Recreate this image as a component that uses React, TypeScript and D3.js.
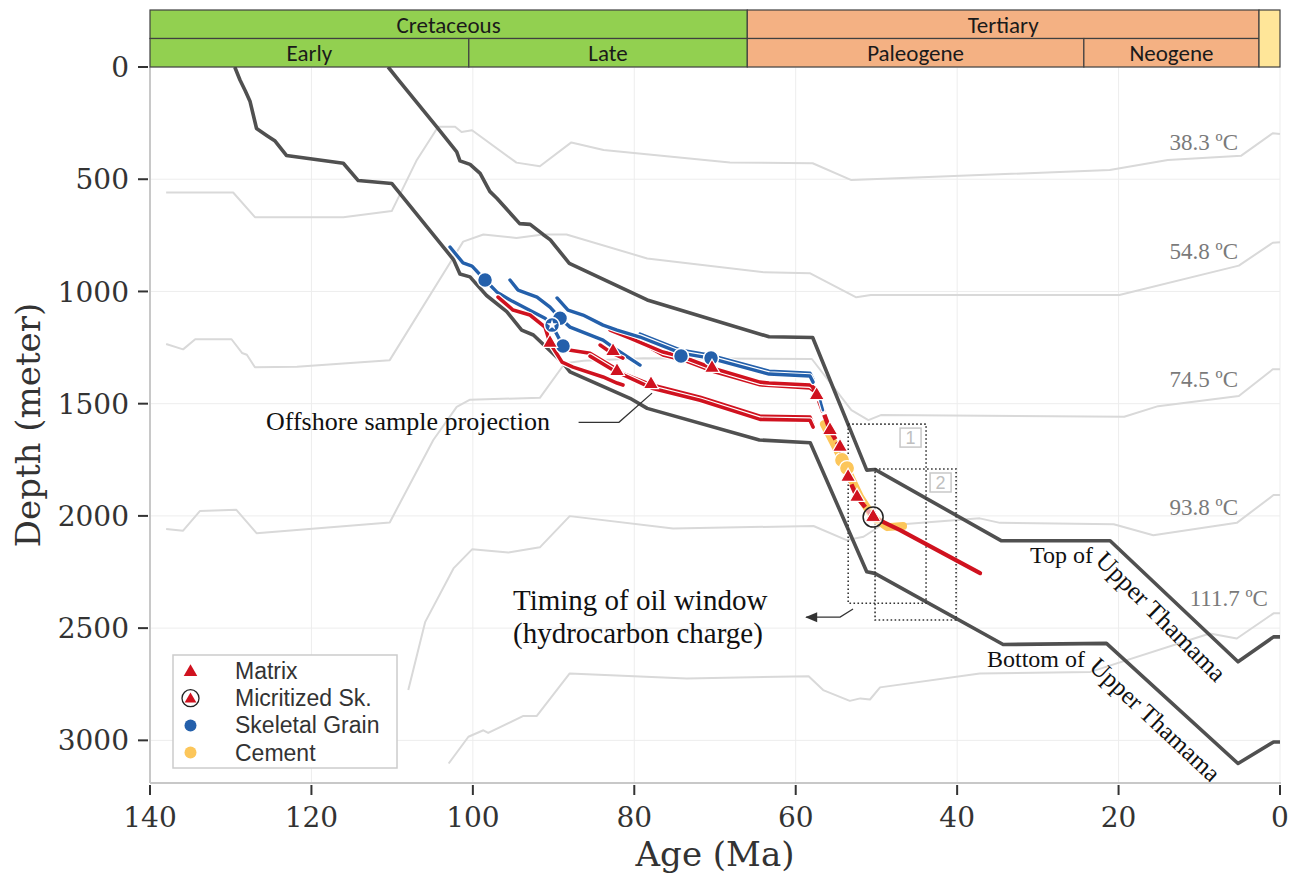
import React from "react";
import * as d3 from "d3";

type P = [number, number];

// ---- axes ----
const ageTicks = [140, 120, 100, 80, 60, 40, 20, 0];
const depthTicks = [0, 500, 1000, 1500, 2000, 2500, 3000];

// ---- geologic time header ----
const periods = [
  { name: "Cretaceous", start: 140, end: 66, color: "#92D050" },
  { name: "Tertiary", start: 66, end: 2.6, color: "#F4B183" },
];
const epochs = [
  { name: "Early", start: 140, end: 100.5, color: "#92D050" },
  { name: "Late", start: 100.5, end: 66, color: "#92D050" },
  { name: "Paleogene", start: 66, end: 24.3, color: "#F4B183" },
  { name: "Neogene", start: 24.3, end: 2.6, color: "#F4B183" },
];
const quaternary = { start: 2.6, end: 0, color: "#FFE699" };

// ---- burial curves [age Ma, depth m] ----
const topThamama: P[] = [
  [110.5, 0], [109.2, 58], [104.5, 266], [102.0, 378], [101.6, 418], [100.35, 434], [99.1, 474],
  [97.9, 554], [97.0, 586], [95.8, 634], [94.2, 698], [92.9, 701], [91.3, 746], [90.4, 770],
  [88.05, 875], [78.4, 1038], [63.3, 1202], [57.9, 1205], [51.2, 1796], [50.2, 1793],
  [34.5, 2111], [21.05, 2111], [5.2, 2650], [0.8, 2539], [0, 2539],
];
const bottomThamama: P[] = [
  [129.5, 0], [128.85, 58], [128.2, 106], [127.6, 154], [126.8, 274], [125.5, 306], [124.5, 330],
  [123.1, 394], [116.05, 429], [114.2, 506], [110.05, 519], [102.4, 858], [101.6, 922],
  [100.35, 935], [99.7, 962], [98.3, 1018], [95.8, 1090], [93.95, 1172], [92.5, 1194],
  [88.8, 1320], [87.96, 1358], [80.53, 1476], [78.4, 1521], [64.5, 1662], [58.2, 1674],
  [51.2, 2249], [50.2, 2256], [34.3, 2573], [21.5, 2568], [5.2, 3103], [0.8, 3007], [0, 3007],
];

// ---- isotherms ----
const iso38: P[] = [
  [138.0, 559], [129.7, 559], [127.0, 669], [116.05, 669], [110.05, 642], [107.0, 418], [104.3, 266],
  [102.2, 266], [101.4, 290], [100.1, 282], [94.6, 426], [91.7, 442], [87.8, 336], [83.8, 370],
  [68.15, 425], [57.9, 429], [53.1, 504], [21.1, 459], [13.9, 414], [4.8, 395], [0.9, 295], [0, 299],
];
const iso54: P[] = [
  [138.0, 1234], [135.9, 1258], [134.4, 1213], [129.9, 1213], [128.6, 1274], [128.0, 1282],
  [127.0, 1338], [121.8, 1336], [110.3, 1306], [101.2, 778], [98.7, 746], [94.6, 762], [91.3, 746],
  [88.4, 746], [78.4, 853], [63.9, 915], [58.2, 919], [52.5, 1026], [50.7, 1016], [19.9, 1016],
  [5.1, 885], [0.9, 783], [0, 781],
];
const iso74: P[] = [
  [138.0, 2058], [135.9, 2066], [133.8, 1978], [129.3, 1973], [126.8, 2077], [110.3, 2029],
  [104.9, 1662], [102.0, 1514], [100.35, 1482], [91.7, 1474], [88.6, 1320], [86.3, 1309],
  [78.9, 1298], [58.0, 1301], [53.1, 1529], [51.0, 1573], [49.45, 1551], [19.3, 1558],
  [15.1, 1511], [5.1, 1466], [0.9, 1347], [0, 1347],
];
const iso93: P[] = [
  [108.0, 2776], [105.9, 2472], [102.4, 2234], [100.1, 2149], [95.6, 2163], [91.7, 2140],
  [88.0, 2001], [75.2, 2056], [57.8, 2045], [53.7, 2108], [51.6, 2093], [49.55, 2045],
  [37.2, 2011], [34.7, 2031], [20.6, 2037], [15.7, 2086], [5.35, 2031], [0.8, 1907], [0, 1907],
];
const iso111: P[] = [
  [103.0, 3103], [100.55, 2984], [98.7, 2955], [98.1, 2967], [93.8, 2892], [92.1, 2892],
  [88.0, 2702], [73.5, 2724], [58.4, 2714], [56.6, 2776], [53.3, 2824], [52.0, 2813],
  [50.8, 2818], [49.55, 2764], [37.2, 2702], [23.5, 2695], [8.7, 2524], [5.35, 2546],
  [0.8, 2434], [0, 2434],
];
const isoLabels = [
  { text: "38.3 ºC", age: 5.2, depth: 370 },
  { text: "54.8 ºC", age: 5.2, depth: 856 },
  { text: "74.5 ºC", age: 5.2, depth: 1426 },
  { text: "93.8 ºC", age: 5.2, depth: 1996 },
  { text: "111.7 ºC", age: 1.5, depth: 2402 },
];

// ---- sample paths ----
const blue1: P[] = [
  [102.83, 802], [101.22, 873], [100.1, 887], [98.49, 949], [97.01, 1003], [95.15, 1043],
  [92.55, 1092], [91.06, 1119], [90.19, 1150], [88.83, 1243],
];
const blue2: P[] = [
  [95.4, 949], [94.4, 994], [92.05, 1025], [90.44, 1070], [89.2, 1119], [87.96, 1159],
  [83.87, 1217], [82.14, 1261], [79.29, 1328],
];
const blue3: P[] = [
  [89.57, 1029], [88.21, 1083], [86.35, 1105], [83.87, 1150], [82.14, 1172], [79.29, 1203],
  [74.21, 1275], [70.62, 1297], [63.31, 1368], [58.23, 1377], [57.85, 1404],
];
const blue4: P[] = [
  [79.29, 1190], [74.21, 1262], [70.62, 1284], [63.31, 1355], [58.23, 1364], [57.85, 1392],
];
const blueSteep: P[] = [[56.97, 1484], [56.62, 1529]];
const red1: P[] = [
  [96.88, 1025], [95.02, 1083], [92.92, 1105], [91.06, 1159], [90.44, 1230], [88.95, 1315],
  [87.59, 1337], [83.87, 1381], [82.14, 1408], [81.4, 1417],
];
const red2: P[] = [
  [88.95, 1248], [88.1, 1261], [85.48, 1275], [82.63, 1337], [82.14, 1355], [77.8, 1417],
  [71.85, 1471], [64.42, 1556], [58.23, 1560], [57.85, 1595],
];
const red2b: P[] = [
  [85.48, 1288], [82.63, 1350], [77.8, 1431], [71.85, 1485], [64.42, 1570], [58.23, 1574],
  [57.85, 1604],
];
const red3: P[] = [
  [83.0, 1172], [80.53, 1208], [76.44, 1270], [73.96, 1292], [70.37, 1341], [64.42, 1404],
  [63.31, 1408], [58.23, 1417], [57.85, 1426],
];
const red3b: P[] = [
  [79.29, 1225], [76.44, 1283], [73.96, 1305], [70.37, 1354], [64.42, 1416], [58.23, 1430],
  [57.85, 1440],
];
const red4: P[] = [[84.24, 1239], [82.76, 1275], [81.4, 1297]];
const redSteep: P[] = [
  [57.85, 1426], [57.36, 1462], [55.75, 1618], [54.51, 1693], [53.51, 1827], [52.4, 1916],
  [50.41, 2005],
];
const redTail: P[] = [[50.41, 2005], [47.07, 2063], [37.16, 2255]];
const cementBand: P[] = [
  [56.5, 1591], [53.9, 1774], [52.03, 1916], [50.41, 2005], [48.68, 2050], [46.7, 2045],
];

// ---- sample points ----
const matrixPts: P[] = [
  [90.44, 1230], [82.63, 1266], [82.14, 1355], [77.93, 1413], [70.37, 1341], [57.4, 1462],
  [55.75, 1618], [54.51, 1693], [53.51, 1827], [52.4, 1916],
];
const micritizedPts: P[] = [[50.41, 2005]];
const skeletalPts: P[] = [[98.49, 949], [89.2, 1119], [88.83, 1243], [74.21, 1288], [70.49, 1297]];
const starPts: P[] = [[90.19, 1150]];
const cementPts: P[] = [[54.26, 1751], [53.64, 1787]];

const legendItems = ["Matrix", "Micritized Sk.", "Skeletal Grain", "Cement"];

// ---- annotation boxes (age range, depth range) ----
const windowBoxes = [
  { label: "1", a0: 53.5, a1: 43.85, d0: 1591, d1: 2389 },
  { label: "2", a0: 50.17, a1: 40.13, d0: 1791, d1: 2464 },
];

const RED = "#d0121f";
const BLUE = "#2460ab";
const YEL = "#fcc65a";
const DARK = "#505050";
const ISO = "#d9d9d9";

export default function App() {
  const x = d3.scaleLinear().domain([140, 0]).range([150, 1280]);
  const y = d3.scaleLinear().domain([0, 3190]).range([67, 783]);
  const line = d3.line<P>().x((d) => x(d[0])).y((d) => y(d[1]));
  const tri = d3.symbol(d3.symbolTriangle, 100)()!;
  const triSmall = d3.symbol(d3.symbolTriangle, 80)()!;
  const star = d3.symbol(d3.symbolStar, 38)()!;

  const serifAxis = "'DejaVu Serif', serif";
  const times = "'Liberation Serif', 'Times New Roman', serif";
  const hdrFont = "Carlito, Lato, 'Open Sans', sans-serif";

  const samplePath = (pts: P[], color: string, w = 3.6, key?: string) => (
    <g key={key}>
      <path d={line(pts)!} fill="none" stroke="#fff" strokeWidth={w + 2.4} strokeLinejoin="round" strokeLinecap="round" />
      <path d={line(pts)!} fill="none" stroke={color} strokeWidth={w} strokeLinejoin="round" strokeLinecap="round" />
    </g>
  );

  const hTop = 10, hMid = 38.5, hBot = 67;

  return (
    <svg width={1301} height={873} style={{ position: "absolute", left: 0, top: 0, background: "#fff" }}>
      {/* grid */}
      <g>
        {ageTicks.map((t) => (
          <line key={"gx" + t} x1={x(t)} x2={x(t)} y1={67} y2={783} stroke="#ededed" strokeWidth={1} />
        ))}
        {depthTicks.map((t) => (
          <line key={"gy" + t} x1={150} x2={1280} y1={y(t)} y2={y(t)} stroke="#ededed" strokeWidth={1} />
        ))}
      </g>

      {/* isotherms */}
      {[iso38, iso54, iso74, iso93, iso111].map((iso, i) => (
        <path key={"iso" + i} d={line(iso)!} fill="none" stroke={ISO} strokeWidth={2} strokeLinejoin="round" />
      ))}
      {isoLabels.map((l) => (
        <text key={l.text} x={x(l.age)} y={y(l.depth)} textAnchor="end" fontFamily={times} fontSize={23} fill="#7a7a7a">
          {l.text}
        </text>
      ))}

      {/* burial curves */}
      <path d={line(topThamama)!} fill="none" stroke={DARK} strokeWidth={3.6} strokeLinejoin="round" />
      <path d={line(bottomThamama)!} fill="none" stroke={DARK} strokeWidth={3.6} strokeLinejoin="round" />

      {/* oil window boxes */}
      {windowBoxes.map((b) => (
        <g key={"box" + b.label}>
          <rect x={x(b.a0)} y={y(b.d0)} width={x(b.a1) - x(b.a0)} height={y(b.d1) - y(b.d0)} fill="none" stroke="#333" strokeWidth={1.6} strokeDasharray="1.6 2.4" />
          <rect x={x(b.a1) - 26} y={y(b.d0) + 4} width={21} height={19} fill="#fff" stroke="#c8c8c8" strokeWidth={1.5} />
          <text x={x(b.a1) - 15.5} y={y(b.d0) + 20} textAnchor="middle" fontFamily="'Liberation Sans', Arial, sans-serif" fontSize={18} fill="#c0c0c0">
            {b.label}
          </text>
        </g>
      ))}

      {/* sample paths */}
      {samplePath(blue1, BLUE, 3.4, "b1")}
      {samplePath(blue2, BLUE, 3.4, "b2")}
      {samplePath(red1, RED, 3.6, "r1")}
      {samplePath(red2, RED, 3.6, "r2")}
      {samplePath(red2b, RED, 3.6, "r2b")}
      {samplePath(red4, RED, 3.6, "r4")}
      {samplePath(red3b, RED, 3.6, "r3b")}
      {samplePath(red3, RED, 3.6, "r3")}
      {samplePath(blue4, BLUE, 3.4, "b4")}
      {samplePath(blue3, BLUE, 3.4, "b3")}
      <path d={line(cementBand)!} fill="none" stroke={YEL} strokeWidth={8} strokeLinejoin="round" strokeLinecap="round" />
      <path d={line(redSteep)!} fill="none" stroke={RED} strokeWidth={4.5} strokeDasharray="12 3" strokeLinejoin="round" />
      {samplePath(blueSteep, BLUE, 2.5, "bs")}
      <path d={line(redTail)!} fill="none" stroke={RED} strokeWidth={4.2} strokeLinejoin="round" strokeLinecap="round" />

      {/* markers */}
      {cementPts.map((p, i) => (
        <circle key={"c" + i} cx={x(p[0])} cy={y(p[1])} r={7.5} fill={YEL} stroke="#fff" strokeWidth={1.2} />
      ))}
      {skeletalPts.map((p, i) => (
        <circle key={"s" + i} cx={x(p[0])} cy={y(p[1])} r={7.5} fill={BLUE} stroke="#fff" strokeWidth={1.5} />
      ))}
      {starPts.map((p, i) => (
        <g key={"st" + i} transform={`translate(${x(p[0])},${y(p[1])})`}>
          <circle r={7.5} fill={BLUE} stroke="#fff" strokeWidth={1.5} />
          <path d={star} fill="#fff" />
        </g>
      ))}
      {matrixPts.map((p, i) => (
        <path key={"m" + i} d={tri} transform={`translate(${x(p[0])},${y(p[1])})`} fill={RED} stroke="#fff" strokeWidth={1.2} />
      ))}
      {micritizedPts.map((p, i) => (
        <g key={"mi" + i} transform={`translate(${x(p[0])},${y(p[1])})`}>
          <circle r={10} fill="#fff" fillOpacity={0.6} stroke="#222" strokeWidth={1.5} />
          <path d={tri} fill={RED} stroke="#fff" strokeWidth={1} />
        </g>
      ))}

      {/* annotations */}
      <text x={266} y={430} fontFamily={times} fontSize={26} fill="#111">Offshore sample projection</text>
      <path d={`M${x(86.9)},${y(1583)} L${x(81.9)},${y(1583)} L${x(77.8)},${y(1453)}`} fill="none" stroke="#333" strokeWidth={1.3} />
      <text x={513} y={610} fontFamily={times} fontSize={29} fill="#111">Timing of oil window</text>
      <text x={513} y={643} fontFamily={times} fontSize={29} fill="#111">(hydrocarbon charge)</text>
      <path d={`M${x(52.9)},${y(2415)} L${x(54.5)},${y(2451)} L${x(58.7)},${y(2451)}`} fill="none" stroke="#333" strokeWidth={1.3} />
      <path d={`M${x(58.7) - 1},${y(2451)} l12,-5 l0,10 z`} fill="#333" />

      <text x={1030} y={563} fontFamily={times} fontSize={24} fill="#111">Top of</text>
      <text transform={`translate(${x(23.0)},${y(2205)}) rotate(45)`} fontFamily={times} fontSize={25.5} fill="#111">Upper Thamama</text>
      <text x={987} y={667} fontFamily={times} fontSize={24} fill="#111">Bottom of</text>
      <text transform={`translate(${x(23.8)},${y(2680)}) rotate(43)`} fontFamily={times} fontSize={25} fill="#111">Upper Thamama</text>

      {/* legend */}
      <g>
        <rect x={173} y={655} width={224} height={113} fill="#fff" stroke="#cccccc" strokeWidth={1.5} />
        {legendItems.map((name, i) => {
          const cy = 671 + i * 27.2;
          const cx = 190.5;
          return (
            <g key={name}>
              {i === 0 && <path d={triSmall} transform={`translate(${cx},${cy + 1})`} fill={RED} />}
              {i === 1 && (
                <g transform={`translate(${cx},${cy})`}>
                  <circle r={8.5} fill="#fff" stroke="#222" strokeWidth={1.3} />
                  <path d={d3.symbol(d3.symbolTriangle, 60)()!} transform="translate(0,1)" fill={RED} />
                </g>
              )}
              {i === 2 && <circle cx={cx} cy={cy} r={6} fill={BLUE} />}
              {i === 3 && <circle cx={cx} cy={cy} r={6} fill={YEL} />}
              <text x={235} y={cy} dy="0.35em" fontFamily="'Liberation Sans', Arial, sans-serif" fontSize={23} fill="#333">
                {name}
              </text>
            </g>
          );
        })}
      </g>

      {/* axes */}
      <line x1={150} x2={150} y1={67} y2={783} stroke="#c8c8c8" strokeWidth={2} />
      <line x1={150} x2={1281} y1={783} y2={783} stroke="#c8c8c8" strokeWidth={2} />
      {depthTicks.map((t) => (
        <g key={"yt" + t}>
          <line x1={138} x2={148} y1={y(t)} y2={y(t)} stroke="#333" strokeWidth={2} />
          <text x={129} y={y(t)} dy="0.36em" textAnchor="end" fontFamily={serifAxis} fontSize={28} fill="#333">
            {t}
          </text>
        </g>
      ))}
      {ageTicks.map((t) => (
        <g key={"xt" + t}>
          <line x1={x(t)} x2={x(t)} y1={785} y2={795} stroke="#333" strokeWidth={2} />
          <text x={x(t)} y={827} textAnchor="middle" fontFamily={serifAxis} fontSize={28} fill="#333">
            {t}
          </text>
        </g>
      ))}
      <text x={715} y={866} textAnchor="middle" fontFamily={serifAxis} fontSize={34} fill="#333">Age (Ma)</text>
      <text transform={`translate(40,${425}) rotate(-90)`} textAnchor="middle" fontFamily={serifAxis} fontSize={34} fill="#333">
        Depth (meter)
      </text>

      {/* time header */}
      <g>
        {periods.map((p) => (
          <g key={p.name}>
            <rect x={x(p.start)} y={hTop} width={x(p.end) - x(p.start)} height={hMid - hTop} fill={p.color} stroke="#404040" strokeWidth={1.2} />
            <text x={(x(p.start) + x(p.end)) / 2} y={(hTop + hMid) / 2} dy="0.36em" textAnchor="middle" fontFamily={hdrFont} fontSize={23} fill="#1a1a1a">
              {p.name}
            </text>
          </g>
        ))}
        {epochs.map((p) => (
          <g key={p.name}>
            <rect x={x(p.start)} y={hMid} width={x(p.end) - x(p.start)} height={hBot - hMid} fill={p.color} stroke="#404040" strokeWidth={1.2} />
            <text x={(x(p.start) + x(p.end)) / 2} y={(hMid + hBot) / 2} dy="0.36em" textAnchor="middle" fontFamily={hdrFont} fontSize={23} fill="#1a1a1a">
              {p.name}
            </text>
          </g>
        ))}
        <rect x={x(quaternary.start)} y={hTop} width={x(quaternary.end) - x(quaternary.start)} height={hBot - hTop} fill={quaternary.color} stroke="#404040" strokeWidth={1.2} />
      </g>
    </svg>
  );
}
